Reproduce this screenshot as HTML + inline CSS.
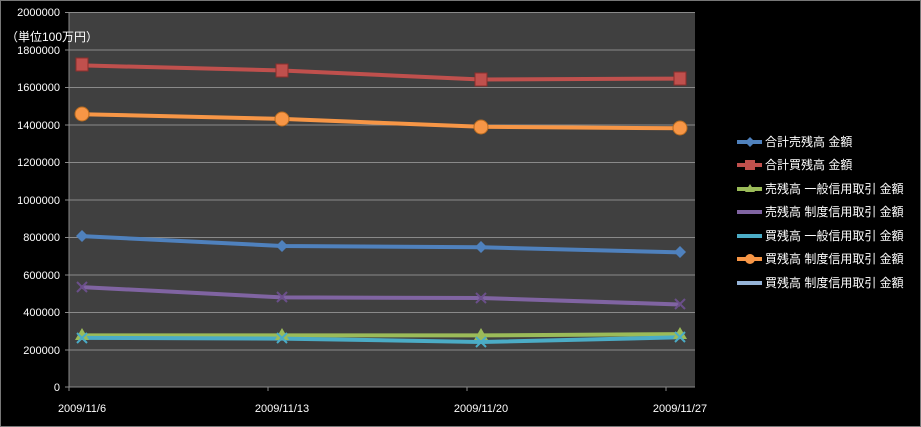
<!DOCTYPE html>
<html><head><meta charset="utf-8"><style>
body{margin:0;background:#000;}
svg{display:block;font-family:"Liberation Sans","Noto Sans CJK JP",sans-serif;}
</style></head><body>
<svg width="921" height="427" viewBox="0 0 921 427">
<rect x="0.5" y="0.5" width="920" height="426" fill="#000" stroke="#777"/>
<rect x="69" y="12" width="626" height="375" fill="#404040"/>
<g stroke="#8a8a8a" stroke-width="1">
<line x1="65" y1="12.5" x2="695" y2="12.5"/><line x1="65" y1="50" x2="695" y2="50"/>
<line x1="65" y1="87.5" x2="695" y2="87.5"/><line x1="65" y1="125" x2="695" y2="125"/>
<line x1="65" y1="162.5" x2="695" y2="162.5"/><line x1="65" y1="200" x2="695" y2="200"/>
<line x1="65" y1="237.5" x2="695" y2="237.5"/><line x1="65" y1="275" x2="695" y2="275"/>
<line x1="65" y1="312.5" x2="695" y2="312.5"/><line x1="65" y1="350" x2="695" y2="350"/>
<line x1="65" y1="387" x2="695" y2="387"/><line x1="69" y1="12" x2="69" y2="391"/>
<line x1="268" y1="387" x2="268" y2="391"/><line x1="467" y1="387" x2="467" y2="391"/><line x1="666" y1="387" x2="666" y2="391"/>
</g>
<g fill="#fff" font-size="11" text-anchor="end">
<text x="60" y="16">2000000</text><text x="60" y="54">1800000</text><text x="60" y="91">1600000</text>
<text x="60" y="129">1400000</text><text x="60" y="166">1200000</text><text x="60" y="204">1000000</text>
<text x="60" y="241">800000</text><text x="60" y="279">600000</text><text x="60" y="316">400000</text>
<text x="60" y="354">200000</text><text x="60" y="391">0</text>
</g>
<text x="6" y="41" fill="#fff" font-size="12">（単位100万円）</text>
<g fill="#fff" font-size="11" text-anchor="middle">
<text x="82" y="412">2009/11/6</text><text x="282" y="412">2009/11/13</text>
<text x="481" y="412">2009/11/20</text><text x="680" y="412">2009/11/27</text>
</g>
<g fill="none" stroke-width="4" stroke-linejoin="round">
<polyline stroke="#c0504d" points="82,65.4 282,70.5 481,79.5 680,78.6"/>
<polyline stroke="#f79646" points="82,114.2 282,118.9 481,126.8 680,128.3"/>
<polyline stroke="#4f81bd" points="82,236.1 282,246 481,247.3 680,252.4"/>
<polyline stroke="#8064a2" points="82,287.1 282,297.4 481,298 680,304.5"/>
<polyline stroke="#9bbb59" points="82,335.4 282,335.4 481,335.4 680,334.1"/>
<polyline stroke="#4bacc6" points="82,337.9 282,338.6 481,342 680,337.3"/>
</g>
<g>
<rect x="76" y="58" width="12" height="13" fill="#c0504d" stroke="#8c2e2b"/><rect x="276" y="64" width="12" height="13" fill="#c0504d" stroke="#8c2e2b"/>
<rect x="475" y="73" width="12" height="13" fill="#c0504d" stroke="#8c2e2b"/><rect x="674" y="72" width="12" height="13" fill="#c0504d" stroke="#8c2e2b"/>
<circle cx="82" cy="114" r="7" fill="#f79646" stroke="#b86b20"/><circle cx="282" cy="119" r="7" fill="#f79646" stroke="#b86b20"/>
<circle cx="481" cy="127" r="7" fill="#f79646" stroke="#b86b20"/><circle cx="680" cy="128" r="7" fill="#f79646" stroke="#b86b20"/>
<g fill="#4f81bd"><path d="M82 230l6 6-6 6-6-6z"/><path d="M282 240l6 6-6 6-6-6z"/><path d="M481 241l6 6-6 6-6-6z"/><path d="M680 246l6 6-6 6-6-6z"/></g>
<g stroke="#6b4f8a" stroke-width="2"><path d="M77 282l10 10M87 282l-10 10M277 292l10 10M287 292l-10 10M476 293l10 10M486 293l-10 10M675 299l10 10M685 299l-10 10"/></g>
<g fill="#9bbb59"><path d="M82 328l7 12h-14z"/><path d="M282 328l7 12h-14z"/><path d="M481 328l7 12h-14z"/><path d="M680 327l7 12h-14z"/></g>
<g stroke="#4bacc6" stroke-width="2"><path d="M77 333l10 10M87 333l-10 10M277 333l10 10M287 333l-10 10M476 337l10 10M486 337l-10 10M675 332l10 10M685 332l-10 10"/></g>
</g>
<g stroke-width="4">
<line x1="737" y1="142" x2="762" y2="142" stroke="#4f81bd"/><line x1="737" y1="165" x2="762" y2="165" stroke="#c0504d"/>
<line x1="737" y1="189" x2="762" y2="189" stroke="#9bbb59"/><line x1="737" y1="212" x2="762" y2="212" stroke="#8064a2"/>
<line x1="737" y1="236" x2="762" y2="236" stroke="#4bacc6"/><line x1="737" y1="259" x2="762" y2="259" stroke="#f79646"/>
<line x1="737" y1="283" x2="762" y2="283" stroke="#95b3d7"/>
</g>
<path d="M750 137l5 5-5 5-5-5z" fill="#4f81bd"/><rect x="745" y="160" width="10" height="10" fill="#c0504d"/>
<path d="M750 184l5 8h-10z" fill="#9bbb59"/><circle cx="750" cy="259" r="5" fill="#f79646"/>
<g fill="#fff" font-size="12">
<text x="765" y="146">合計売残高 金額</text><text x="765" y="169">合計買残高 金額</text>
<text x="765" y="193">売残高 一般信用取引 金額</text><text x="765" y="216">売残高 制度信用取引 金額</text>
<text x="765" y="240">買残高 一般信用取引 金額</text><text x="765" y="263">買残高 制度信用取引 金額</text>
<text x="765" y="287">買残高 制度信用取引 金額</text>
</g>
</svg>
</body></html>
